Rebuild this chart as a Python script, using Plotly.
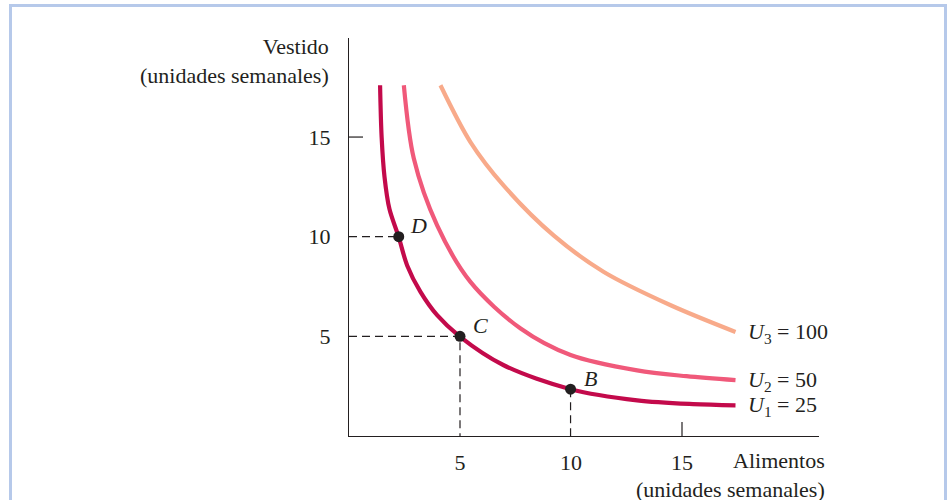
import plotly.graph_objects as go

# ---- data ----
u1_x = [1.40, 1.47, 1.60, 1.82, 2.24, 2.62, 3.22, 3.97, 4.98, 6.97, 9.98, 12.98, 15.5, 17.41]
u1_y = [17.60, 15.00, 13.00, 11.40, 9.98, 8.56, 7.23, 6.06, 5.00, 3.55, 2.35, 1.79, 1.60, 1.54]
u2_x = [2.47, 2.92, 3.97, 5.47, 7.73, 9.98, 12.98, 15.2, 17.41]
u2_y = [17.60, 13.92, 10.57, 7.73, 5.39, 4.06, 3.29, 3.00, 2.80]
u3_x = [4.12, 5.47, 6.97, 9.23, 11.48, 14.49, 17.41]
u3_y = [17.60, 14.75, 12.56, 10.05, 8.23, 6.56, 5.22]
curve_labels = ["<i>U</i><sub>1</sub> = 25", "<i>U</i><sub>2</sub> = 50", "<i>U</i><sub>3</sub> = 100"]

point_names = ["D", "C", "B"]
point_x = [2.24, 5.0, 9.98]
point_y = [10.0, 5.0, 2.35]

x_ticks = [5, 10, 15]
y_ticks = [5, 10, 15]

# ---- style / layout ----
W, H = 948, 500
L, T = 349, 38
PW, PH = 470, 398
R, B = W - L - PW, H - T - PH
XMAX = PW / 22.2
YMAX = PH / 19.93
FONT = "Liberation Serif"
FS = 22
TXT = "#231f20"
colors = ["#c30a4b", "#f0597a", "#f8aa8a"]


def px_x(p):
    return (p - L) / PW


def px_y(p):
    return (T + PH - p) / PH


fig = go.Figure()

curves = [(u1_x, u1_y), (u2_x, u2_y), (u3_x, u3_y)]
for (xs, ys), c in zip(curves, colors):
    fig.add_trace(go.Scatter(x=xs, y=ys, mode="lines",
                             line=dict(color=c, width=4.2, shape="spline", smoothing=0.9),
                             hoverinfo="skip", showlegend=False))

# dashed guide lines
dash = dict(color=TXT, width=1.2, dash="8px,5px")
fig.add_trace(go.Scatter(x=[0, point_x[0]], y=[point_y[0], point_y[0]], mode="lines",
                         line=dash, showlegend=False, hoverinfo="skip"))
fig.add_trace(go.Scatter(x=[0, point_x[1], point_x[1]], y=[point_y[1], point_y[1], 0], mode="lines",
                         line=dash, showlegend=False, hoverinfo="skip"))
fig.add_trace(go.Scatter(x=[point_x[2], point_x[2]], y=[point_y[2], 0], mode="lines",
                         line=dash, showlegend=False, hoverinfo="skip"))

fig.add_trace(go.Scatter(x=point_x, y=point_y, mode="markers",
                         marker=dict(color="#231f20", size=11),
                         showlegend=False, hoverinfo="skip"))

annotations = []
for n, x, y in zip(point_names, point_x, point_y):
    annotations.append(dict(x=x, y=y, xref="x", yref="y", text=f"<i>{n}</i>",
                            showarrow=False, xshift=20, yshift=11,
                            font=dict(family=FONT, size=FS, color=TXT)))
for (xs, ys), lab in zip(curves, curve_labels):
    annotations.append(dict(x=xs[-1], y=ys[-1], xref="x", yref="y", text=lab,
                            showarrow=False, xanchor="left", xshift=10, yshift=-1,
                            font=dict(family=FONT, size=FS, color=TXT)))

annotations.append(dict(x=px_x(331), y=px_y(61), xref="paper", yref="paper",
                        text="Vestido<br>(unidades semanales)", align="right",
                        xanchor="right", yanchor="middle", showarrow=False,
                        font=dict(family=FONT, size=FS, color=TXT)))
annotations.append(dict(x=px_x(827), y=px_y(475), xref="paper", yref="paper",
                        text="Alimentos<br>(unidades semanales)", align="right",
                        xanchor="right", yanchor="middle", showarrow=False,
                        font=dict(family=FONT, size=FS, color=TXT)))

shapes = [
    # frame
    dict(type="rect", xref="paper", yref="paper",
         x0=px_x(10.5), x1=px_x(945.5), y0=px_y(560), y1=px_y(5.5),
         line=dict(color="#b6c9ea", width=3), fillcolor="rgba(0,0,0,0)", layer="below"),
    # inside tick marks at 15
    dict(type="line", xref="x", yref="paper", x0=x_ticks[-1], x1=x_ticks[-1],
         y0=0, y1=14 / PH, line=dict(color=TXT, width=1.2)),
    dict(type="line", xref="paper", yref="y", x0=0, x1=14 / PW,
         y0=y_ticks[-1], y1=y_ticks[-1], line=dict(color=TXT, width=1.2)),
]

fig.update_layout(
    width=W, height=H,
    margin=dict(l=L, r=R, t=T, b=B, pad=0),
    paper_bgcolor="white", plot_bgcolor="white",
    annotations=annotations, shapes=shapes,
    xaxis=dict(range=[0, XMAX], showgrid=False, zeroline=False,
               showline=True, linecolor=TXT, linewidth=1.3,
               tickvals=x_ticks, ticktext=[str(v) for v in x_ticks], ticks="",
               tickfont=dict(family=FONT, size=FS, color=TXT), ticklabelstandoff=6),
    yaxis=dict(range=[0, YMAX], showgrid=False, zeroline=False,
               showline=True, linecolor=TXT, linewidth=1.3,
               tickvals=y_ticks, ticktext=[str(v) for v in y_ticks], ticks="",
               tickfont=dict(family=FONT, size=FS, color=TXT), ticklabelstandoff=13),
)

fig.write_html("out.html", config={"displayModeBar": False},
               post_script="document.body.style.margin='0';document.body.style.overflow='hidden';")
